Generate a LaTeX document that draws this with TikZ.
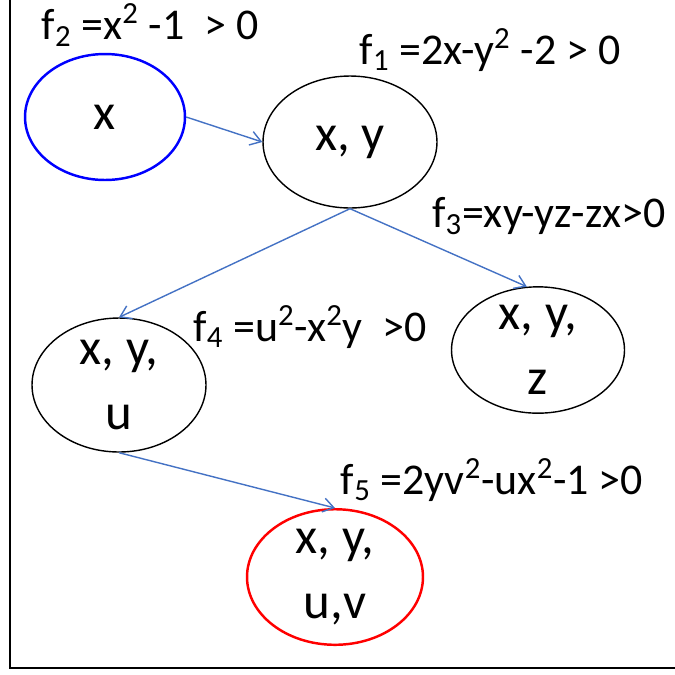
\documentclass[tikz,border=0pt]{standalone}
\usepackage{fontspec}
\setmainfont{Carlito}
\usetikzlibrary{arrows.meta,shapes.geometric}

\begin{document}
\begin{tikzpicture}[
    x=0.02cm, y=-0.02cm,
    var/.style={draw, ellipse, inner sep=0pt, align=center, font=\fontsize{29}{37}\selectfont, line width=0.8pt},
    start/.style={var, draw=blue, line width=1.4pt},
    goal/.style={var, draw=red, line width=1.4pt},
    cond/.style={font=\fontsize{25}{28}\selectfont, inner sep=0pt},
    link/.style={-{Straight Barb[length=6pt,width=8pt]}, draw={rgb,255:red,68;green,114;blue,196}, line width=0.8pt}
]
\useasboundingbox (0,0) rectangle (675,674);

% Frame
\draw[line width=0.6pt] (10,0) -- (10,668) -- (675,668);

% Variable sets
\node[start, minimum width=3.2cm, minimum height=2.52cm] (x) at (105,117) {x};
\node[var, minimum width=3.48cm, minimum height=2.64cm] (xy) at (350,142) {x, y};
\node[var, minimum width=3.48cm, minimum height=2.68cm] (xyu) at (119,385) {x, y,\\u};
\node[var, minimum width=3.46cm, minimum height=2.24cm] (xyz) at (538,350) {x, y,\\z};
\node[goal, minimum width=3.52cm, minimum height=2.64cm] (xyuv) at (335,577) {x, y,\\u,v};

% Constraints
\node[cond] (f2) at (150,25) {f\textsubscript{2} =x\textsuperscript{2} -1 \ > 0};
\node[cond] (f1) at (490,50) {f\textsubscript{1} =2x-y\textsuperscript{2} -2 > 0};
\node[cond] (f3) at (549,216) {f\textsubscript{3}=xy-yz-zx>0};
\node[cond] (f4) at (310,327) {f\textsubscript{4} =u\textsuperscript{2}-x\textsuperscript{2}y \ >0};
\node[cond] (f5) at (492,480) {f\textsubscript{5} =2yv\textsuperscript{2}-ux\textsuperscript{2}-1 >0};

% Connections
\draw[link] (x.east) -- (xy.west);
\draw[link] (xy.south) -- (xyu.north);
\draw[link] (xy.south) -- (xyz.100);
\draw[link] (xyu.south) -- (xyuv.north);

\end{tikzpicture}
\end{document}
